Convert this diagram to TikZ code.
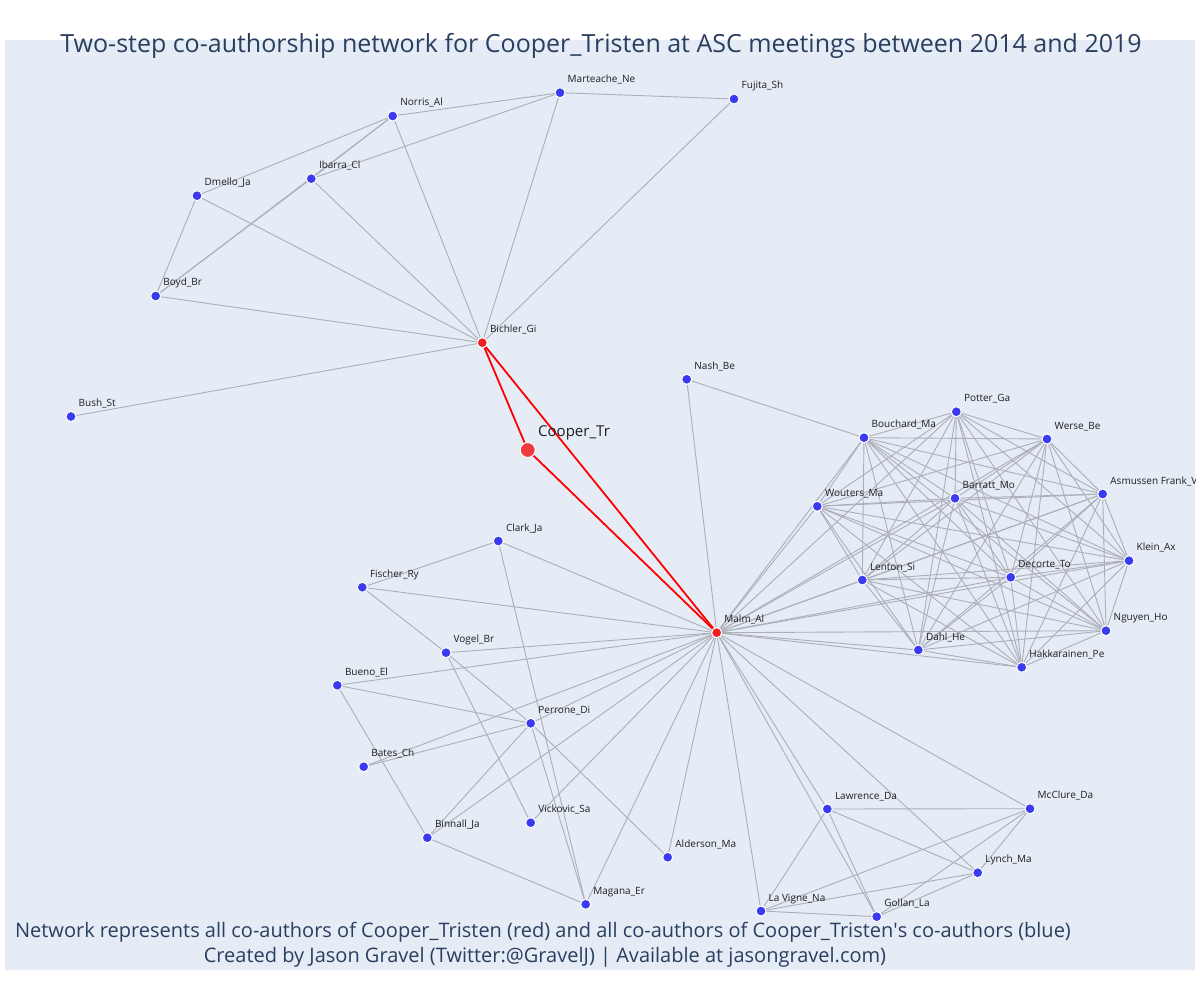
\documentclass[tikz,border=0pt]{standalone}
\usepackage{fontspec}
\setmainfont{Open Sans}
\definecolor{plotbg}{RGB}{229,236,246}
\definecolor{titlecol}{RGB}{42,63,95}
\definecolor{edgecol}{RGB}{172,174,184}
\definecolor{bluenode}{RGB}{58,58,240}
\definecolor{rednode}{RGB}{240,30,30}
\definecolor{lblcol}{RGB}{30,30,30}
\pgfdeclarelayer{bg}
\pgfdeclarelayer{edges}
\pgfsetlayers{bg,edges,main}
\newcommand\pnode[5]{%
  \node[#1] (#2) at (#3,#4) {};
  \node[lbl] (#2-l) at ([xshift=7.5pt,yshift=10pt]#2.center) {#5};}
\begin{document}
\begin{tikzpicture}[x=1pt,y=-1pt,
  bnode/.style={circle,fill=bluenode,draw=white,line width=1pt,minimum size=10pt,inner sep=0pt},
  rnode/.style={circle,fill=rednode,draw=white,line width=1pt,minimum size=10pt,inner sep=0pt},
  cnode/.style={circle,fill=rednode,fill opacity=0.85,draw=white,line width=1pt,minimum size=15pt,inner sep=0pt},
  lbl/.style={anchor=base west,inner sep=0pt,text=lblcol,font=\fontsize{10}{12}\selectfont},
  clbl/.style={anchor=base west,inner sep=0pt,text=lblcol,font=\fontsize{15}{18}\selectfont},
  edge/.style={draw=edgecol,line width=0.9pt},
  redge/.style={draw=red,line width=1.8pt},
  ttl/.style={anchor=base,inner sep=0pt,text=titlecol,font=\fontsize{25}{30}\selectfont},
  note/.style={anchor=base,inner sep=0pt,text=titlecol,font=\fontsize{20}{24}\selectfont}]
\useasboundingbox (0,0) rectangle (1200,1000);
\begin{pgfonlayer}{bg}
  \fill[plotbg] (5,40) rectangle (1195,970);
\end{pgfonlayer}
\node[ttl] (title) at (601,53) {Two-step co-authorship network for Cooper\_Tristen at ASC meetings between 2014 and 2019};
\begin{scope}
\clip (5,40) rectangle (1195,970);
% red nodes
\node[cnode] (cooper) at (527.7,450) {};
\node[clbl] (cooper-l) at (538,436) {Cooper\_Tr};
\pnode{rnode}{bichler}{482.3}{342.7}{Bichler\_Gi}
\pnode{rnode}{malm}{716.7}{632.7}{Malm\_Al}
% top group
\pnode{bnode}{norris}{392.7}{116}{Norris\_Al}
\pnode{bnode}{marteache}{560}{92.7}{Marteache\_Ne}
\pnode{bnode}{fujita}{734}{99}{Fujita\_Sh}
\pnode{bnode}{ibarra}{311.3}{178.7}{Ibarra\_Cl}
\pnode{bnode}{dmello}{197}{195.7}{Dmello\_Ja}
\pnode{bnode}{boyd}{155.7}{296}{Boyd\_Br}
\pnode{bnode}{bush}{71}{416.5}{Bush\_St}
\pnode{bnode}{nash}{686.7}{379.3}{Nash\_Be}
% right cluster
\pnode{bnode}{potter}{956.3}{411.7}{Potter\_Ga}
\pnode{bnode}{bouchard}{864}{437.7}{Bouchard\_Ma}
\pnode{bnode}{werse}{1047}{439}{Werse\_Be}
\pnode{bnode}{asmussen}{1102.7}{494}{Asmussen Frank\_V}
\pnode{bnode}{barratt}{955}{498.3}{Barratt\_Mo}
\pnode{bnode}{wouters}{817.3}{506.3}{Wouters\_Ma}
\pnode{bnode}{klein}{1129}{560.7}{Klein\_Ax}
\pnode{bnode}{lenton}{862.3}{580}{Lenton\_Si}
\pnode{bnode}{decorte}{1010.7}{577.3}{Decorte\_To}
\pnode{bnode}{nguyen}{1106}{630.7}{Nguyen\_Ho}
\pnode{bnode}{dahl}{918.3}{650}{Dahl\_He}
\pnode{bnode}{hakk}{1021.7}{667.3}{Hakkarainen\_Pe}
% bottom left
\pnode{bnode}{clark}{498.3}{541}{Clark\_Ja}
\pnode{bnode}{fischer}{362.3}{587.3}{Fischer\_Ry}
\pnode{bnode}{vogel}{446}{652.7}{Vogel\_Br}
\pnode{bnode}{bueno}{337.3}{685.3}{Bueno\_El}
\pnode{bnode}{perrone}{530.7}{723.3}{Perrone\_Di}
\pnode{bnode}{bates}{363.7}{766.7}{Bates\_Ch}
\pnode{bnode}{binnall}{427.3}{837.7}{Binnall\_Ja}
\pnode{bnode}{vickovic}{530.7}{822.7}{Vickovic\_Sa}
\pnode{bnode}{alderson}{667.7}{857.3}{Alderson\_Ma}
\pnode{bnode}{magana}{585.7}{904.3}{Magana\_Er}
% bottom right
\pnode{bnode}{lawrence}{827.3}{809}{Lawrence\_Da}
\pnode{bnode}{mcclure}{1030}{808.7}{McClure\_Da}
\pnode{bnode}{lynch}{977.7}{872.7}{Lynch\_Ma}
\pnode{bnode}{lavigne}{761}{911}{La Vigne\_Na}
\pnode{bnode}{gollan}{876.7}{916.7}{Gollan\_La}
\end{scope}
% notes
\node[note] (note1) at (543,937) {Network represents all co-authors of Cooper\_Tristen (red) and all co-authors of Cooper\_Tristen\textquotesingle s co-authors (blue)};
\node[note] (note2) at (545,962) {Created by Jason Gravel (Twitter:@GravelJ) | Available at jasongravel.com)};
% edges
\begin{pgfonlayer}{edges}
\foreach \a/\b in {bichler/boyd,bichler/dmello,bichler/ibarra,bichler/norris,bichler/marteache,bichler/fujita,bichler/bush,
  norris/dmello,norris/ibarra,norris/boyd,norris/marteache,ibarra/marteache,ibarra/boyd,marteache/fujita,dmello/boyd,
  nash/malm,nash/bouchard,
  malm/clark,malm/fischer,malm/vogel,malm/bueno,malm/perrone,malm/bates,malm/binnall,malm/vickovic,malm/alderson,malm/magana,
  clark/fischer,clark/magana,fischer/vogel,vogel/perrone,vogel/vickovic,bueno/perrone,bueno/binnall,
  perrone/bates,perrone/binnall,perrone/magana,perrone/alderson,binnall/magana}
  {\draw[edge] (\a) -- (\b);}
\foreach \a [count=\i] in {malm,bouchard,potter,werse,asmussen,wouters,barratt,lenton,decorte,klein,nguyen,dahl,hakk}
  {\foreach \b [count=\j] in {malm,bouchard,potter,werse,asmussen,wouters,barratt,lenton,decorte,klein,nguyen,dahl,hakk}
    {\ifnum\j>\i \draw[edge] (\a) -- (\b);\fi}}
\foreach \a [count=\i] in {malm,lawrence,mcclure,lynch,lavigne,gollan}
  {\foreach \b [count=\j] in {malm,lawrence,mcclure,lynch,lavigne,gollan}
    {\ifnum\j>\i \draw[edge] (\a) -- (\b);\fi}}
\draw[redge] (cooper) -- (bichler);
\draw[redge] (cooper) -- (malm);
\draw[redge] (bichler) -- (malm);
\end{pgfonlayer}
\end{tikzpicture}
\end{document}
